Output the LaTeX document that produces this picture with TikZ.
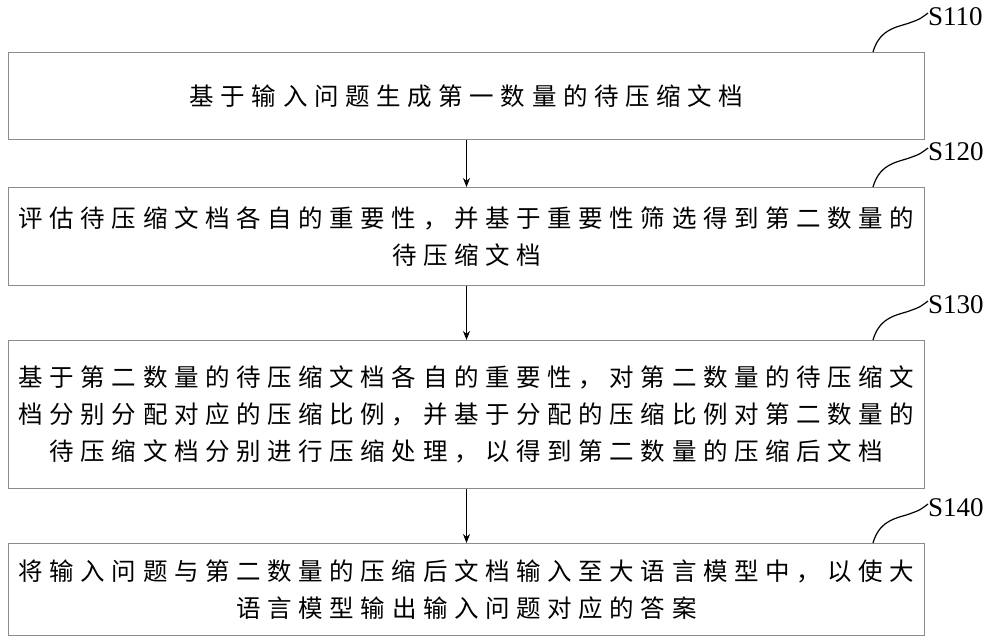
\documentclass[tikz,border=0pt]{standalone}
\usepackage{fontspec}
\usetikzlibrary{arrows.meta}
\setmainfont{Liberation Serif}
\newfontfamily\cjk[LetterSpace=27]{Noto Sans CJK SC}
\begin{document}
\begin{tikzpicture}[x=1pt,y=-1pt,
  stepbox/.style={draw=black!45,line width=1pt,minimum width=916pt,anchor=north west,inner sep=0pt,align=center,font=\cjk\fontsize{24.5}{37}\selectfont},
  arr/.style={-{Stealth[length=9pt,width=7pt]},line width=0.8pt},
  lead/.style={line width=1.2pt},
  lbl/.style={anchor=west,font=\fontsize{27}{27}\selectfont,inner sep=0pt}]
\useasboundingbox (0,0) rectangle (1000,642);
\node[stepbox,minimum height=87pt] (b1) at (8,52) {基于输入问题生成第一数量的待压缩文档};
\node[stepbox,minimum height=98pt] (b2) at (8,187) {评估待压缩文档各自的重要性，并基于重要性筛选得到第二数量的\\待压缩文档};
\node[stepbox,minimum height=148pt] (b3) at (8,340) {基于第二数量的待压缩文档各自的重要性，对第二数量的待压缩文\\档分别分配对应的压缩比例，并基于分配的压缩比例对第二数量的\\待压缩文档分别进行压缩处理，以得到第二数量的压缩后文档};
\node[stepbox,minimum height=92pt] (b4) at (8,543) {将输入问题与第二数量的压缩后文档输入至大语言模型中，以使大\\语言模型输出输入问题对应的答案};
\draw[arr] (b1.south) -- (b2.north);
\draw[arr] (b2.south) -- (b3.north);
\draw[arr] (b3.south) -- (b4.north);
\foreach \b/\t/\y in {b1/S110/52,b2/S120/187,b3/S130/340,b4/S140/543}{
  \coordinate (s\b) at (873,\y);
  \coordinate (e\b) at (928,\y-39);
  \draw[lead] (s\b) .. controls (880,\y-25) and (900,\y-25) .. (912,\y-30) .. controls (920,\y-33) .. (e\b);
  \node[lbl] (l\b) at (928,\y-35) {\t};
}
\end{tikzpicture}
\end{document}
